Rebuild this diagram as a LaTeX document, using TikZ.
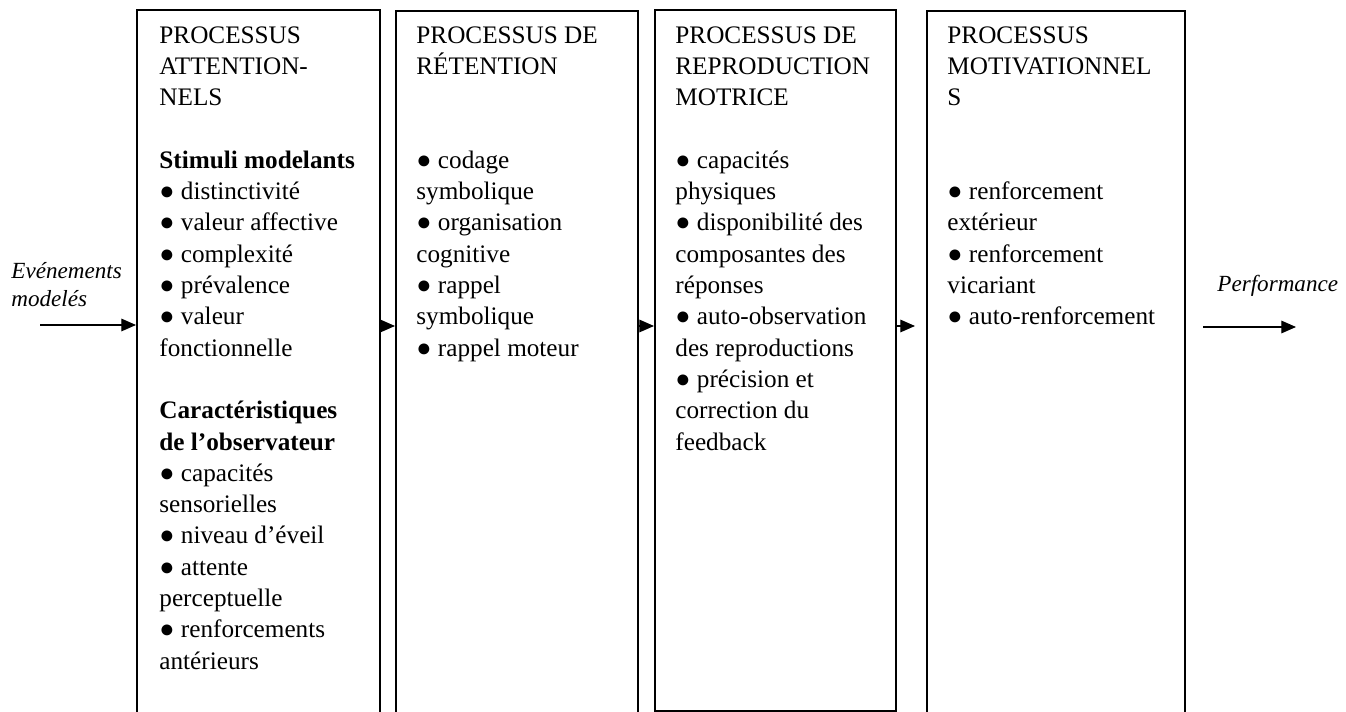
\documentclass[tikz,border=0pt]{standalone}
\usepackage{fontspec}
\setmainfont{Liberation Serif}
\usetikzlibrary{arrows.meta}

\newcommand\puce{●\ }

\begin{document}
\begin{tikzpicture}[x=0.476pt,y=-0.476pt]

\tikzset{
  procbox/.style={draw, line width=1.1pt, anchor=north west, inner sep=0pt},
  proctext/.style={anchor=north west, align=left, inner sep=0pt, font=\fontsize{12}{14.9}\selectfont},
  flowlabel/.style={anchor=base west, align=left, inner sep=0pt, font=\fontsize{11}{13.8}\selectfont\itshape},
  flow/.style={line width=0.6pt, -{Triangle[length=7pt,width=6pt]}}
}

\useasboundingbox (0,0) rectangle (1346,712);

\node[procbox, minimum width=115.7pt, minimum height=343pt] (attn) at (136,9) {};
\node[procbox, minimum width=115.2pt, minimum height=343pt] (reten) at (395,10) {};
\node[procbox, minimum width=114.7pt, minimum height=333.7pt] (repro) at (654,9) {};
\node[procbox, minimum width=122.8pt, minimum height=343pt] (motiv) at (926,10) {};

\node[proctext] (attntxt) at (159,26) {PROCESSUS\\ATTENTION-\\NELS\\[14.9pt]\textbf{Stimuli modelants}\\\puce distinctivité\\\puce valeur affective\\\puce complexité\\\puce prévalence\\\puce valeur\\fonctionnelle\\[14.9pt]\textbf{Caractéristiques}\\\textbf{de l’observateur}\\\puce capacités\\sensorielles\\\puce niveau d’éveil\\\puce attente\\perceptuelle\\\puce renforcements\\antérieurs};
\node[proctext] (retentxt) at (416,26) {PROCESSUS DE\\RÉTENTION\\[29.8pt]\puce codage\\symbolique\\\puce organisation\\cognitive\\\puce rappel\\symbolique\\\puce rappel moteur};
\node[proctext] (reprotxt) at (675,26) {PROCESSUS DE\\REPRODUCTION\\MOTRICE\\[14.9pt]\puce capacités\\physiques\\\puce disponibilité des\\composantes des\\réponses\\\puce auto-observation\\des reproductions\\\puce précision et\\correction du\\feedback};
\node[proctext] (motivtxt) at (947,26) {PROCESSUS\\MOTIVATIONNEL\\S\\[29.8pt]\puce renforcement\\extérieur\\\puce renforcement\\vicariant\\\puce auto-renforcement};

\node[flowlabel] (evlabel) at (11,307) {Evénements\\modelés};
\node[flowlabel] (perflabel) at (1217,292) {Performance};

\coordinate (lvl) at (0,326);
\coordinate (evin) at (40,325);
\coordinate (mtip) at (915,326);
\coordinate (pfrom) at (1203,327);
\coordinate (pto) at (1296,327);

\draw[flow] (evin) -- (evin -| attn.west);
\draw[flow] (attn.east |- lvl) -- (reten.west |- lvl);
\draw[flow] (reten.east |- lvl) -- (repro.west |- lvl);
\draw[flow] (repro.east |- lvl) -- (mtip);
\draw[flow] (pfrom) -- (pto);

\end{tikzpicture}
\end{document}
